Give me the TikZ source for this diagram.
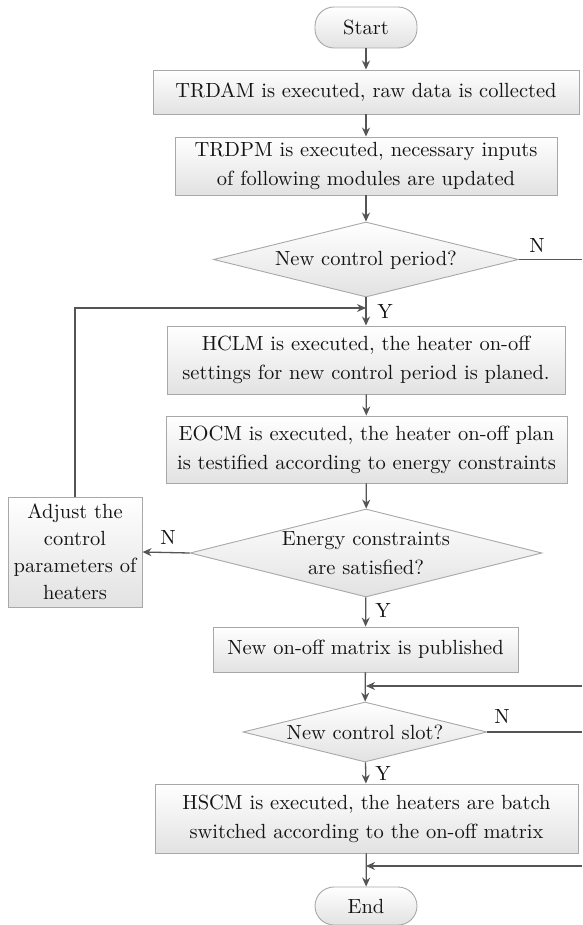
\documentclass[tikz,border=0pt]{standalone}
\usepackage{fontspec}
\setmainfont{lmroman10-regular}[Extension=.otf]
\usetikzlibrary{shapes.geometric,arrows.meta}
\definecolor{linec}{HTML}{555555}
\definecolor{borderc}{HTML}{A8A8A8}
\definecolor{txtc}{HTML}{141414}
\definecolor{shadec}{HTML}{E2E2E2}
\begin{document}
\begin{tikzpicture}[x=1pt,y=-1pt,
  txt/.style={text=txtc, font=\fontsize{20.5pt}{29pt}\selectfont},
  box/.style={txt, draw=borderc, line width=0.9pt, top color=white, bottom color=shadec, inner sep=0pt, align=center},
  term/.style={box, rounded corners=19pt},
  dia/.style={draw=borderc, line width=0.9pt, top color=white, bottom color=shadec, diamond, aspect=4, inner sep=0pt},
  lab/.style={txt, inner sep=0pt},
  ln/.style={draw=linec, line width=1.3pt},
  arr/.style={ln, -{Stealth[length=9pt,width=8pt]}}]
\useasboundingbox (0,0) rectangle (582,925);
\fill[white] (0,0) rectangle (582,925);

\node[term, minimum width=102pt, minimum height=41pt] (start) at (366,27.5) {Start};
\node[box, minimum width=426pt, minimum height=44pt] (b1) at (366,92) {TRDAM is executed, raw data is collected};
\node[box, minimum width=382pt, minimum height=58pt] (b2) at (366,166) {TRDPM is executed, necessary inputs\\of following modules are updated};
\node[dia, minimum width=305pt, minimum height=75pt] (d1) at (366,259.5) {};
\node[lab] (d1t) at (366,260) {New control period?};
\node[box, minimum width=398pt, minimum height=68pt] (hclm) at (366,360) {HCLM is executed, the heater on-off\\settings for new control period is planed.};
\node[box, minimum width=401pt, minimum height=67pt] (eocm) at (366.5,449.5) {EOCM is executed, the heater on-off plan\\is testified according to energy constraints};
\node[dia, minimum width=352pt, minimum height=88pt] (d2) at (366,553) {};
\node[lab, align=center] (d2t) at (366,553) {Energy constraints\\are satisfied?};
\node[box, minimum width=134pt, minimum height=110pt, font=\fontsize{20.5pt}{27pt}\selectfont] (adj) at (75,552) {Adjust the\\control\\parameters of\\heaters};
\node[box, minimum width=305pt, minimum height=45pt] (pub) at (365.5,649.5) {New on-off matrix is published};
\node[dia, minimum width=244pt, minimum height=60pt] (d3) at (365,732) {};
\node[lab] (d3t) at (365,732) {New control slot?};
\node[box, minimum width=423pt, minimum height=69pt] (hscm) at (366.5,818.5) {HSCM is executed, the heaters are batch\\switched according to the on-off matrix};
\node[term, minimum width=102pt, minimum height=38pt] (end) at (366,906) {End};

\coordinate (j1) at (366,308);
\coordinate (n1) at (582,259.5);
\coordinate (r1) at (582,686);
\coordinate (j2) at (366,686);
\coordinate (n3) at (582,732);
\coordinate (r2) at (582,866);
\coordinate (j3) at (366,866);

\draw[arr] (start) -- (b1);
\draw[arr] (b1) -- (b2);
\draw[arr] (b2) -- (d1);
\draw[arr] (d1) -- (hclm);
\draw[arr] (hclm) -- (eocm);
\draw[arr] (eocm) -- (d2);
\draw[arr] (d2) -- (pub);
\draw[arr] (pub) -- (d3);
\draw[arr] (d3) -- (hscm);
\draw[arr] (hscm) -- (end);
\draw[arr] (d2.west) -- (adj.east);
\draw[arr] (adj.north) |- (j1);
\draw[ln] (d1.east) -- (n1);
\draw[ln] (d3.east) -- (n3);
\draw[arr] (r1) -- (j2);
\draw[arr] (r2) -- (j3);

\node[lab] (ln1) at (537,245) {N};
\node[lab] (ln2) at (168,537) {N};
\node[lab] (ln3) at (502,716) {N};
\node[lab] (ly1) at (385,311) {Y};
\node[lab] (ly2) at (383,610) {Y};
\node[lab] (ly3) at (383,773) {Y};
\end{tikzpicture}
\end{document}
